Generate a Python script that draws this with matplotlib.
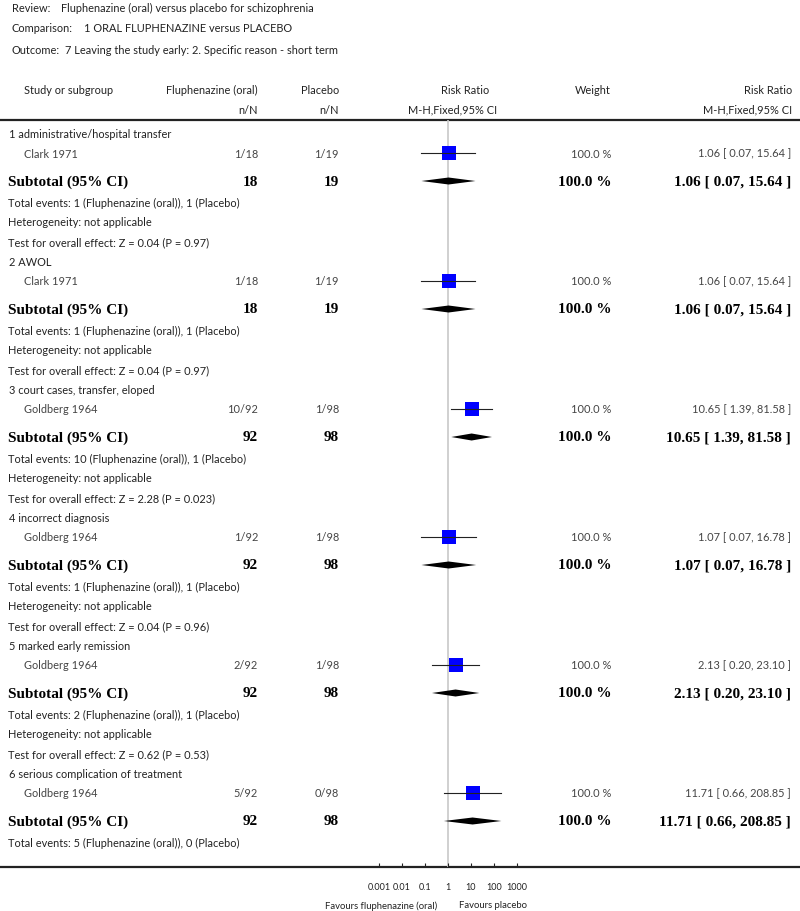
import numpy as np
import matplotlib
matplotlib.use("Agg")
import matplotlib.pyplot as plt
from matplotlib.ticker import FixedLocator, FixedFormatter

# Data
subgroups = ["1 administrative/hospital transfer", "2 AWOL", "3 court cases, transfer, eloped",
             "4 incorrect diagnosis", "5 marked early remission", "6 serious complication of treatment"]
studies = ["Clark 1971", "Clark 1971", "Goldberg 1964", "Goldberg 1964", "Goldberg 1964", "Goldberg 1964"]
events_drug = [1, 1, 10, 1, 2, 5]
total_drug = [18, 18, 92, 92, 92, 92]
events_plac = [1, 1, 1, 1, 1, 0]
total_plac = [19, 19, 98, 98, 98, 98]
rr = [1.06, 1.06, 10.65, 1.07, 2.13, 11.71]
ci_low = [0.07, 0.07, 1.39, 0.07, 0.20, 0.66]
ci_high = [15.64, 15.64, 81.58, 16.78, 23.10, 208.85]
weights = [100.0, 100.0, 100.0, 100.0, 100.0, 100.0]
z_vals = ["0.04", "0.04", "2.28", "0.04", "0.62", None]
p_vals = ["0.97", "0.97", "0.023", "0.96", "0.53", None]
tick_vals = [0.001, 0.01, 0.1, 1, 10, 100, 1000]
tick_labels = ["0.001", "0.01", "0.1", "1", "10", "100", "1000"]

W, H = 800, 912
fig = plt.figure(figsize=(W / 100, H / 100), dpi=100)
ax = fig.add_axes([0, 0, 1, 1])
ax.set_xlim(0, W)
ax.set_ylim(H, 0)
ax.axis("off")

sans = ["Lato", "DejaVu Sans"]
serif = ["Liberation Serif", "DejaVu Serif"]
txt = dict(family=sans, fontsize=7.9, color="#222222", va="center")
lite = dict(family=sans, fontsize=7.9, color="#444444", va="center")
bold = dict(family=serif, fontsize=11, fontweight="bold", color="black", va="center")

# title block
ax.text(12, 8, "Review:", **txt)
ax.text(61, 8, "Fluphenazine (oral) versus placebo for schizophrenia", **txt)
ax.text(12, 29, "Comparison:", **txt)
ax.text(84, 29, "1 ORAL FLUPHENAZINE versus PLACEBO", **txt)
ax.text(12, 51, "Outcome:", **txt)
ax.text(65, 51, "7 Leaving the study early: 2. Specific reason - short term", **txt)

# column headers
ax.text(24, 90, "Study or subgroup", **txt)
ax.text(258, 90, "Fluphenazine (oral)", ha="right", **txt)
ax.text(258, 110, "n/N", ha="right", **txt)
ax.text(339, 90, "Placebo", ha="right", **txt)
ax.text(339, 110, "n/N", ha="right", **txt)
ax.text(489, 90, "Risk Ratio", ha="right", **txt)
ax.text(497, 110, "M-H,Fixed,95% CI", ha="right", **txt)
ax.text(611, 90, "Weight", ha="right", **txt)
ax.text(792, 90, "Risk Ratio", ha="right", **txt)
ax.text(792, 110, "M-H,Fixed,95% CI", ha="right", **txt)

ax.plot([0, W], [121, 121], color="#222222", lw=1.6, solid_capstyle="butt")
ax.plot([0, W], [868, 868], color="#222222", lw=1.6, solid_capstyle="butt")

# forest panel: log x scale, y in the same pixel rows as the text
top, bottom = 121, 868
fx = fig.add_axes([379 / W, (H - bottom) / H, 138 / W, (bottom - top) / H])
fx.set_xscale("log")
fx.set_xlim(1e-3, 1e3)
fx.set_ylim(bottom, top)
fx.patch.set_alpha(0)
for s in fx.spines.values():
    s.set_visible(False)
fx.yaxis.set_visible(False)
fx.xaxis.set_major_locator(FixedLocator(tick_vals))
fx.xaxis.set_major_formatter(FixedFormatter(tick_labels))
fx.xaxis.set_minor_locator(FixedLocator([]))
fx.tick_params(axis="x", direction="in", length=3, width=0.8, color="#222222",
               pad=10.5, labelsize=6.5, labelcolor="#222222")
for lab in fx.get_xticklabels():
    lab.set_family(sans)
fx.axvline(1, color="#c8c8c8", lw=1.2, zorder=0)

ax.text(437, 906, "Favours fluphenazine (oral)", ha="right", family=sans, fontsize=6.8, color="#222222", va="center")
ax.text(459, 906, "Favours placebo", ha="left", family=sans, fontsize=6.8, color="#222222", va="center")

y = 135
for i in range(len(subgroups)):
    ax.text(9, y, subgroups[i], **txt)
    ys = y + 19
    ax.text(24, ys, studies[i], **lite)
    ax.text(258, ys, f"{events_drug[i]}/{total_drug[i]}", ha="right", **lite)
    ax.text(339, ys, f"{events_plac[i]}/{total_plac[i]}", ha="right", **lite)
    ax.text(611, ys, f"{weights[i]:.1f} %", ha="right", **lite)
    ax.text(791, ys, f"{rr[i]:.2f} [ {ci_low[i]:.2f}, {ci_high[i]:.2f} ]", ha="right", **lite)
    fx.plot([ci_low[i], ci_high[i]], [ys, ys], color="#222222", lw=0.8, zorder=3)
    fx.plot([rr[i]], [ys], marker="s", ms=10, mew=0, color="#0000ff", zorder=2)

    yt = ys + 28
    ax.text(8, yt, "Subtotal (95% CI)", **bold)
    ax.text(258, yt, f"{total_drug[i]}", ha="right", **bold)
    ax.text(339, yt, f"{total_plac[i]}", ha="right", **bold)
    ax.text(612, yt, f"{weights[i]:.1f} %", ha="right", **bold)
    ax.text(791, yt, f"{rr[i]:.2f} [ {ci_low[i]:.2f}, {ci_high[i]:.2f} ]", ha="right", **bold)
    fx.fill([ci_low[i], rr[i], ci_high[i], rr[i]], [yt, yt - 3.5, yt, yt + 3.5],
            color="black", lw=0, zorder=3)

    ye = yt + 21
    ax.text(8, ye, f"Total events: {events_drug[i]} (Fluphenazine (oral)), {events_plac[i]} (Placebo)", **txt)
    if z_vals[i] is not None:
        ax.text(8, ye + 20, "Heterogeneity: not applicable", **txt)
        ax.text(8, ye + 40, f"Test for overall effect: Z = {z_vals[i]} (P = {p_vals[i]})", **txt)
    y = ye + 60

fig.savefig("out.png", dpi=100)
